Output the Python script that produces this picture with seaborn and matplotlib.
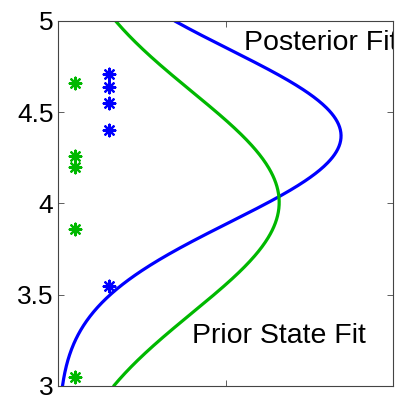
"""Prior vs posterior state: sample points and fitted normal curves"""

import numpy as np
import pandas as pd
import matplotlib
matplotlib.use("Agg")
import matplotlib.pyplot as plt
import seaborn as sns

# samples (y values)
prior_states = [4.66, 4.26, 4.20, 3.86, 3.05]
posterior_states = [4.71, 4.64, 4.55, 4.40, 3.55]
prior_x = 0.05
posterior_x = 0.15

GREEN = "#00b800"
BLUE = "#0000ff"

sns.set_style("ticks")
plt.rcParams["font.family"] = ["Liberation Sans", "DejaVu Sans"]
plt.rcParams["text.color"] = "black"
plt.rcParams["ytick.labelcolor"] = "black"


def normal_fit(samples, grid):
    mu = np.mean(samples)
    sd = np.std(samples, ddof=1)
    return np.exp(-((grid - mu) ** 2) / (2 * sd**2)) / (sd * np.sqrt(2 * np.pi))


y_grid = np.linspace(3, 5, 400)
fits = pd.DataFrame({
    "y": y_grid,
    "prior": normal_fit(prior_states, y_grid),
    "posterior": normal_fit(posterior_states, y_grid),
})

fig, ax = plt.subplots(figsize=(3.99, 3.95), dpi=100)
fig.subplots_adjust(left=0.146, right=0.986, bottom=0.023, top=0.947)

sns.lineplot(data=fits, x="posterior", y="y", orient="y", color=BLUE,
             linewidth=2.3, ax=ax)
sns.lineplot(data=fits, x="prior", y="y", orient="y", color=GREEN,
             linewidth=2.3, ax=ax)

sns.scatterplot(x=[prior_x] * len(prior_states), y=prior_states,
                marker=(8, 2, 0), s=70, color=GREEN, linewidth=1.6,
                edgecolor=GREEN, ax=ax)
sns.scatterplot(x=[posterior_x] * len(posterior_states), y=posterior_states,
                marker=(8, 2, 0), s=70, color=BLUE, linewidth=1.6,
                edgecolor=BLUE, ax=ax)

ax.text(0.555, 4.84, "Posterior Fit", fontsize=20.5, color="black", clip_on=True)
ax.text(0.40, 3.235, "Prior State Fit", fontsize=20.5, color="black")

ax.set_xlim(0, 1)
ax.set_ylim(3, 5)
ax.set_xticks([0, 0.5, 1])
ax.set_xticklabels([])
ax.set_yticks([3, 3.5, 4, 4.5, 5])
ax.set_yticklabels(["3", "3.5", "4", "4.5", "5"])
ax.set_xlabel("")
ax.set_ylabel("")
ax.tick_params(direction="in", length=4, width=0.6, labelsize=19,
               top=True, right=True, color="#444444", labelcolor="black")
for side in ax.spines.values():
    side.set_linewidth(0.8)
    side.set_color("#444444")

plt.savefig("out.png", dpi=100)
